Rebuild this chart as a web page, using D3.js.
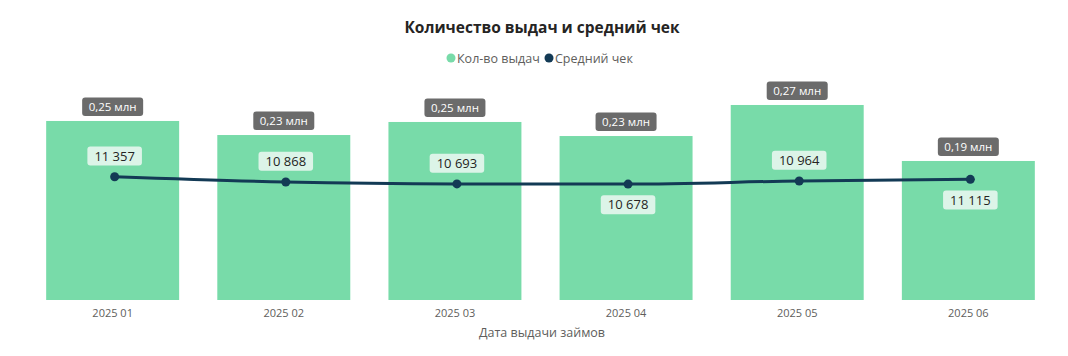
<!DOCTYPE html>
<html><head><meta charset="utf-8">
<script src="https://cdn.jsdelivr.net/npm/d3@7"></script>
<style>
html,body{margin:0;padding:0;background:#fff;}
svg{display:block;font-family:"Open Sans","Noto Sans",sans-serif;}
</style></head>
<body><svg id="c" width="1068" height="356"></svg>
<script>
const categories = ["2025 01","2025 02","2025 03","2025 04","2025 05","2025 06"];
const countValues = [249700, 230100, 248300, 228700, 272000, 193900];
const countLabels = ["0,25 млн","0,23 млн","0,25 млн","0,23 млн","0,27 млн","0,19 млн"];
const avgCheck = [11357, 10868, 10693, 10678, 10964, 11115];
const avgLabels = ["11 357","10 868","10 693","10 678","10 964","11 115"];
const seriesNames = ["Кол-во выдач","Средний чек"];

const labelBelow = [false,false,false,true,false,true];
const barColor = "#78dba9", lineColor = "#133a55";
const lineShift = 2;

const svg = d3.select("#c");
const x = d3.scaleBand().domain(categories).range([27,1054]).paddingInner(0.223).paddingOuter(0.112);
const y = d3.scaleLinear().domain([0,292900]).range([300,90]);
const y2 = d3.scaleLinear().domain([0,19342]).range([300,90]);
const lx = (i)=>x(categories[i])+x.bandwidth()/2+lineShift;

// title
svg.append("text").attr("x",542).attr("y",33).attr("text-anchor","middle")
  .attr("font-size",15.5).attr("font-weight",700).attr("fill","#252423").text("Количество выдач и средний чек");

// legend
const lg = svg.append("g").attr("font-size",12.5).attr("fill","#605e5c");
const legendItems = [{name:seriesNames[0],color:barColor,x:451},{name:seriesNames[1],color:lineColor,x:549}];
legendItems.forEach(d=>{
  lg.append("circle").attr("cx",d.x).attr("cy",58).attr("r",4.5).attr("fill",d.color);
  lg.append("text").attr("x",d.x+6).attr("y",62.5).attr("fill","#605e5c").text(d.name);
});

// bars
svg.append("g").selectAll("rect").data(categories).join("rect")
  .attr("x",d=>x(d)).attr("width",x.bandwidth())
  .attr("y",(d,i)=>y(countValues[i])).attr("height",(d,i)=>y(0)-y(countValues[i]))
  .attr("fill",barColor);

// x axis
const xa = svg.append("g").attr("transform","translate(0,300)")
  .call(d3.axisBottom(x).tickSize(0).tickPadding(9));
xa.select(".domain").remove();
xa.selectAll("text").attr("font-size",11).attr("fill","#605e5c").attr("font-family","'Open Sans','Noto Sans',sans-serif");
svg.append("text").attr("x",542).attr("y",337).attr("text-anchor","middle")
  .attr("font-size",12.5).attr("fill","#605e5c").text("Дата выдачи займов");

// bar labels
const bl = svg.append("g");
categories.forEach((c,i)=>{
  const cx = x(c)+x.bandwidth()/2, top = y(countValues[i]);
  const g = bl.append("g");
  g.append("rect").attr("x",cx-30.5).attr("y",top-23.5).attr("width",61).attr("height",18.5)
    .attr("rx",3).attr("fill","#6b6b6b");
  g.append("text").attr("x",cx).attr("y",top-10).attr("text-anchor","middle")
    .attr("font-size",11.5).attr("font-weight",500).attr("fill","#fff").text(countLabels[i]);
});

// line
const line = d3.line().x((d,i)=>lx(i)).y(d=>y2(d)).curve(d3.curveMonotoneX);
svg.append("path").datum(avgCheck).attr("d",line).attr("fill","none")
  .attr("stroke",lineColor).attr("stroke-width",3);
svg.append("g").selectAll("circle").data(avgCheck).join("circle")
  .attr("cx",(d,i)=>lx(i)).attr("cy",d=>y2(d)).attr("r",4.5).attr("fill",lineColor);

// line labels
const ll = svg.append("g");
avgCheck.forEach((v,i)=>{
  const cx = lx(i);
  const cy = y2(v) + (labelBelow[i] ? 20.7 : -20.7);
  const g = ll.append("g");
  const t = g.append("text").attr("x",cx).attr("y",cy+4.6).attr("text-anchor","middle")
    .attr("font-size",13).attr("fill","#252423").text(avgLabels[i]);
  const w = t.node().getComputedTextLength()+14;
  g.insert("rect","text").attr("x",cx-w/2).attr("y",cy-9.5).attr("width",w).attr("height",19)
    .attr("rx",3).attr("fill","#dcf4e8");
});
</script></body></html>
